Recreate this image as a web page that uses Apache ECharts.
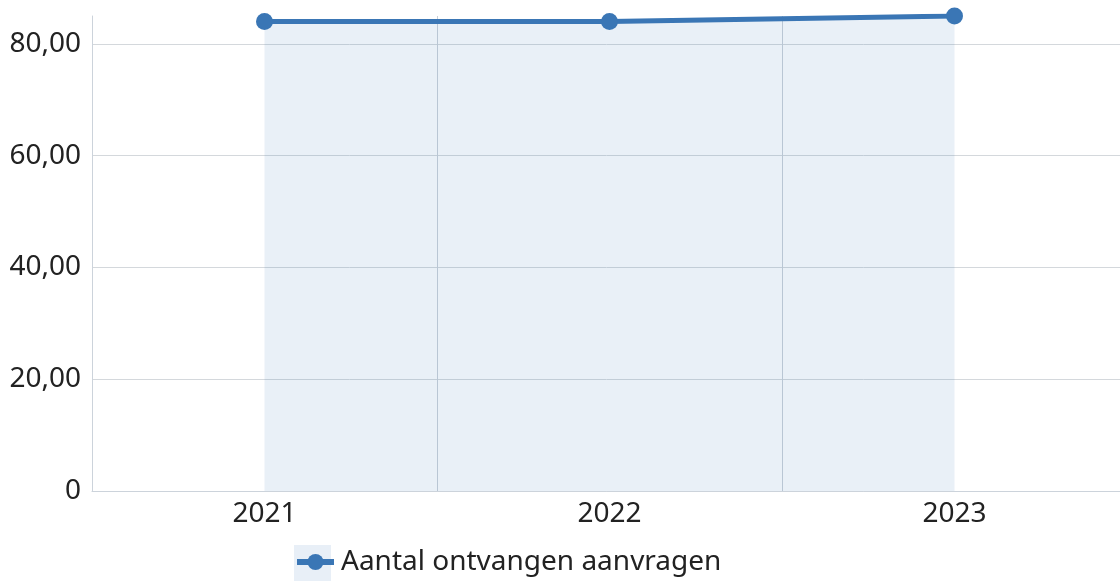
<!DOCTYPE html>
<html>
<head>
<meta charset="utf-8">
<script src="https://cdn.jsdelivr.net/npm/echarts@6/dist/echarts.min.js"></script>
<style>
html,body{margin:0;padding:0;background:#fff;}
#chart{width:1120px;height:581px;}
</style>
</head>
<body>
<div id="chart"></div>
<script>
const categories = ['2021', '2022', '2023'];
const seriesName = 'Aantal ontvangen aanvragen';
const values = [84, 84, 85];
const yTicks = [0, 20, 40, 60, 80];

const FONT = '"Noto Sans", "Open Sans", sans-serif';
const chart = echarts.init(document.getElementById('chart'));
chart.setOption({
  backgroundColor: '#ffffff',
  animation: false,
  graphic: [{
    type: 'rect', left: 294, top: 545, z: 0,
    shape: { width: 37, height: 36 },
    style: { fill: '#e8eff7' }
  }],
  legend: {
    left: 294, top: 544,
    padding: 0,
    itemWidth: 37, itemHeight: 20, itemGap: 20,
    z: 5,
    lineStyle: { width: 6 },
    textStyle: { fontFamily: FONT, fontSize: 28, color: '#222', lineHeight: 26, padding: [10, 0, 0, 2] },
    data: [seriesName]
  },
  grid: { left: 92, right: -7, top: 16, bottom: 90, containLabel: false, outerBoundsMode: 'none' },
  xAxis: {
    type: 'category',
    data: categories,
    boundaryGap: true,
    axisLine: { show: true, lineStyle: { color: '#ccd3db', width: 1 } },
    axisTick: { show: false },
    axisLabel: { fontFamily: FONT, fontSize: 28, color: '#222', margin: 9 },
    splitLine: { show: true, lineStyle: { color: '#c9d0d8', width: 1 } }
  },
  yAxis: {
    type: 'value',
    min: 0, max: 85, interval: 20,
    axisLine: { show: true, lineStyle: { color: '#ccd3db', width: 1 } },
    axisTick: { show: false },
    axisLabel: {
      fontFamily: FONT, fontSize: 28, color: '#222', margin: 11,
      showMaxLabel: false,
      formatter: function (v) {
        if (yTicks.indexOf(v) < 0) return '';
        return v === 0 ? '0' : v.toFixed(2).replace('.', ',');
      }
    },
    splitLine: { show: true, showMaxLine: false, lineStyle: { color: '#d4d8dc', width: 1 } }
  },
  series: [{
    name: seriesName,
    type: 'line',
    data: values,
    symbol: 'circle',
    symbolSize: 17,
    clip: true,
    itemStyle: { color: '#3a76b5' },
    lineStyle: { color: '#3a76b5', width: 5 },
    areaStyle: { color: '#3a76b5', opacity: 0.11 }
  }]
});
</script>
</body>
</html>
